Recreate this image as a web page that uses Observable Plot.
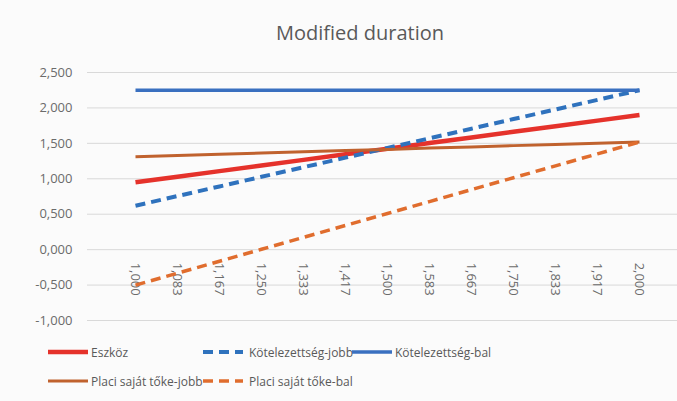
<!DOCTYPE html>
<html>
<head>
<meta charset="utf-8">
<script src="https://cdn.jsdelivr.net/npm/d3@7"></script>
<script src="https://cdn.jsdelivr.net/npm/@observablehq/plot@0.6"></script>
<style>
  html, body { margin: 0; padding: 0; background: #fbfbfb; }
  #wrap { position: relative; width: 677px; height: 401px; font-family: "Open Sans", sans-serif; color: #595959; overflow: hidden; }
  #title { position: absolute; left: 0; top: 19px; width: 720px; text-align: center; font-size: 20px; color: #595959; }
  #chart { position: absolute; left: 0; top: 50px; }
  .leg { position: absolute; font-size: 12px; color: #595959; white-space: nowrap; display: flex; align-items: center; }
  .leg svg { display: block; margin-right: 3px; }
</style>
</head>
<body>
<div id="wrap">
  <div id="title">Modified duration</div>
  <div id="chart"></div>
  <div id="legend"></div>
</div>
<script>
const categories = ["1,000","1,083","1,167","1,250","1,333","1,417","1,500","1,583","1,667","1,750","1,833","1,917","2,000"];
const eszkoz = [0.950, 1.029, 1.108, 1.188, 1.267, 1.346, 1.425, 1.504, 1.583, 1.663, 1.742, 1.821, 1.900];
const kotJobb = [0.620, 0.756, 0.892, 1.028, 1.163, 1.299, 1.435, 1.571, 1.707, 1.843, 1.978, 2.114, 2.250];
const kotBal = [2.250, 2.250, 2.250, 2.250, 2.250, 2.250, 2.250, 2.250, 2.250, 2.250, 2.250, 2.250, 2.250];
const placiJobb = [1.310, 1.328, 1.345, 1.363, 1.380, 1.398, 1.415, 1.433, 1.450, 1.468, 1.485, 1.503, 1.520];
const placiBal = [-0.500, -0.332, -0.163, 0.005, 0.173, 0.342, 0.510, 0.678, 0.847, 1.015, 1.183, 1.352, 1.520];
const yTicks = [-1, -0.5, 0, 0.5, 1, 1.5, 2, 2.5];

const seriesDefs = [
  {name: "Eszköz", values: eszkoz, color: "#e5322b", width: 4.5, dash: null},
  {name: "Kötelezettség-jobb", values: kotJobb, color: "#2f72bd", width: 4, dash: "10,6"},
  {name: "Kötelezettség-bal", values: kotBal, color: "#3a70c0", width: 3.5, dash: null},
  {name: "Placi saját tőke-jobb", values: placiJobb, color: "#c0622e", width: 3, dash: null},
  {name: "Placi saját tőke-bal", values: placiBal, color: "#e06d2e", width: 3.5, dash: "10,6"}
];

const loc = d3.formatLocale({decimal: ",", thousands: " ", grouping: [3], currency: ["", ""], minus: "-"});
const fmt = loc.format(".3f");

const marks = [
  Plot.ruleY(yTicks, {stroke: "#d9d9d9", strokeWidth: 1}),
  Plot.axisY(yTicks, {tickSize: 0, tickPadding: 15, tickFormat: fmt, fontSize: 13, fill: "#6b6b6b", label: null}),
  Plot.text(categories, {x: d => d, y: 0, text: d => d, rotate: 90, textAnchor: "start", dy: 13, fontSize: 13, fill: "#6b6b6b"})
];
for (const s of seriesDefs) {
  const data = categories.map((c, i) => ({x: c, y: s.values[i]}));
  marks.push(Plot.line(data, {x: "x", y: "y", stroke: s.color, strokeWidth: s.width, strokeDasharray: s.dash, strokeLinecap: "butt"}));
}

const chart = Plot.plot({
  width: 677,
  height: 285,
  marginLeft: 87,
  marginRight: 0,
  marginTop: 22,
  marginBottom: 15,
  style: {background: "transparent", fontFamily: "Open Sans, sans-serif"},
  x: {type: "point", domain: categories, range: [110, 663], axis: null},
  y: {domain: [-1, 2.5], axis: null},
  marks
});
document.getElementById("chart").appendChild(chart);

const legendPos = [
  {x: 48, y: 352}, {x: 203, y: 352}, {x: 352, y: 352},
  {x: 48, y: 381}, {x: 203, y: 381}
];
const legend = document.getElementById("legend");
seriesDefs.forEach((s, i) => {
  const p = legendPos[i];
  const div = document.createElement("div");
  div.className = "leg";
  div.style.left = p.x + "px";
  div.style.top = (p.y - 9) + "px";
  div.style.height = "18px";
  const sw = d3.create("svg").attr("width", 40).attr("height", 18);
  sw.append("line").attr("x1", 0).attr("x2", 40).attr("y1", 9).attr("y2", 9)
    .attr("stroke", s.color).attr("stroke-width", s.width)
    .attr("stroke-dasharray", s.dash);
  div.appendChild(sw.node());
  const t = document.createElement("span");
  t.textContent = s.name;
  if (s.dash) t.style.marginLeft = "3px";
  div.appendChild(t);
  legend.appendChild(div);
});
</script>
</body>
</html>
